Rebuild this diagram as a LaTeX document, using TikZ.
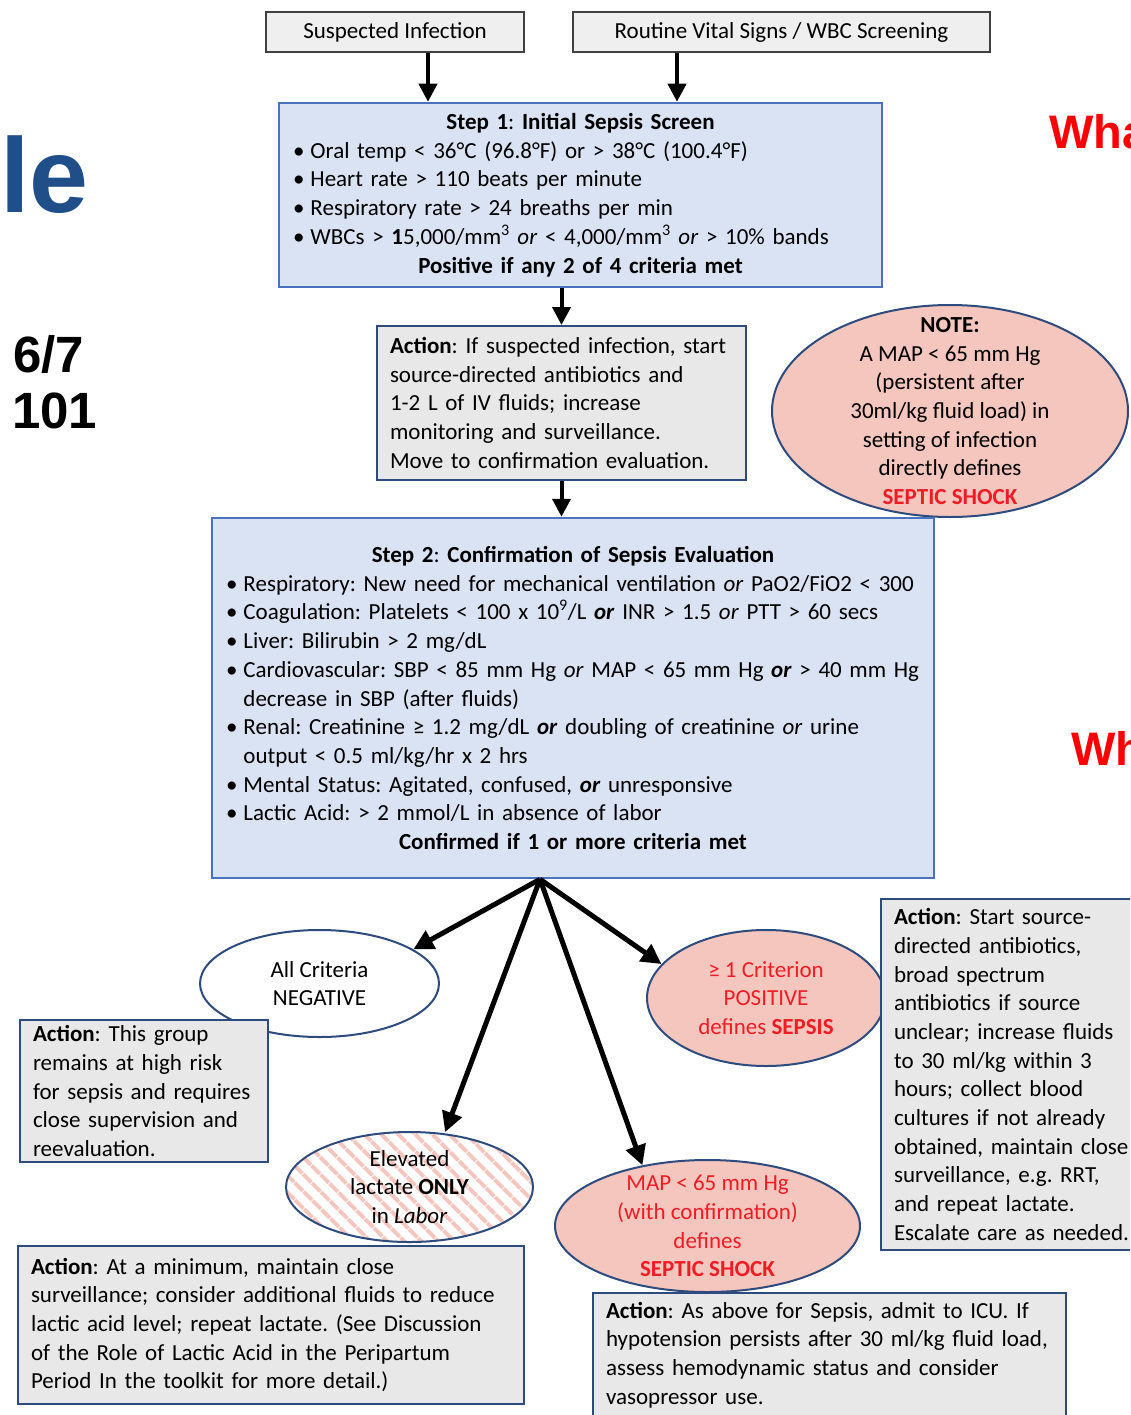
\documentclass[tikz,border=0pt]{standalone}
\usepackage{fontspec}
\setmainfont{Carlito}
\newfontfamily\slidefont{Liberation Sans}
\usetikzlibrary{arrows.meta,shapes.geometric,patterns.meta}
\definecolor{stepfill}{HTML}{DAE3F3}
\definecolor{stepline}{HTML}{4A72BE}
\definecolor{actfill}{HTML}{E8E8E8}
\definecolor{actline}{HTML}{2E4B7E}
\definecolor{topfill}{HTML}{EFEFEF}
\definecolor{topline}{HTML}{404040}
\definecolor{pinkfill}{HTML}{F5C6BD}
\definecolor{alertred}{HTML}{EE1C24}
\definecolor{titleblue}{HTML}{1F4E89}
\setlength{\parindent}{0pt}
\frenchspacing
\newcommand{\itm}{\textbullet\kern 6pt}

\begin{document}
\begin{tikzpicture}[x = 1pt, y = -1pt,
font = \fontsize{23}{28.7}\selectfont,
topbox/.style = {draw = topline, line width = 2pt, fill = topfill, inner sep = 0pt},
stepbox/.style = {draw = stepline, line width = 2.5pt, fill = stepfill, inner xsep = 14pt, inner ysep = 0pt, align = left},
actbox/.style = {draw = actline, line width = 2pt, fill = actfill, inner xsep = 13pt, inner ysep = 0pt, align = left},
oval/.style = {ellipse, draw = actline, line width = 2pt, inner sep = 0pt},
arr/.style = {line width = 4pt, -{Triangle[length = 18pt, width = 18pt]}},
branch/.style = {line width = 5pt, -{Triangle[length = 20pt, width = 20pt]}},
slide/.style = {anchor = base west, inner sep = 0pt}
]
\useasboundingbox (0,0) rectangle (1130,1415);
\clip (0,0) rectangle (1130,1415);
\fill [white] (0,0) rectangle (1130,1415);

% pieces of the slide behind the chart
\node [slide, text = titleblue, font = \slidefont\bfseries\fontsize{106}{106}\selectfont] (slide-le) at (0,213) {le};
\node [slide, font = \slidefont\bfseries\fontsize{51}{51}\selectfont] (slide-date) at (13,372) {6/7};
\node [slide, font = \slidefont\bfseries\fontsize{51}{51}\selectfont] (slide-num) at (12,428) {101};
\node [slide, text = red, font = \slidefont\bfseries\fontsize{47}{47}\selectfont] (slide-what) at (1049,149) {Wha};
\node [slide, text = red, font = \slidefont\bfseries\fontsize{47}{47}\selectfont] (slide-wh) at (1071,765) {Wh};

% entry points
\node [topbox, minimum width = 258pt, minimum height = 40pt] (susp) at (395,32) {Suspected Infection};
\node [topbox, minimum width = 417pt, minimum height = 40pt] (vitals) at (781.5,32) {Routine Vital Signs / WBC Screening};

\node [stepbox, text width = 575pt, minimum height = 184pt] (step1) at (580.5,195) {%
\centerline{\textbf{Step 1}: \textbf{Initial Sepsis Screen}}
\itm Oral temp < 36°C (96.8°F) or > 38°C (100.4°F)\\
\itm Heart rate > 110 beats per minute\\
\itm Respiratory rate > 24 breaths per min\\
\itm WBCs > \textbf{1}5,000/mm\textsuperscript{3} \textit{or} < 4,000/mm\textsuperscript{3} \textit{or} > 10\% bands\par
\centerline{\textbf{Positive if any 2 of 4 criteria met}}};

\node [actbox, text width = 343pt, minimum height = 154pt] (act1) at (561.5,403) {%
\textbf{Action}: If suspected infection, start\\
source-directed antibiotics and\\
1-2 L of IV fluids; increase\\
monitoring and surveillance.\\
Move to confirmation evaluation.};

\node [oval, fill = pinkfill, minimum width = 356pt, minimum height = 212pt] (note) at (950,411) {};
\node [align = center] (note-text) at (note.center) {\textbf{NOTE:}\\
A MAP < 65 mm Hg\\
(persistent after\\
30ml/kg fluid load) in\\
setting of infection\\
directly defines\\
\textcolor{alertred}{\textbf{SEPTIC SHOCK}}};

\node [stepbox, text width = 694pt, minimum height = 360pt] (step2) at (573,698) {%
\centerline{\textbf{Step 2}: \textbf{Confirmation of Sepsis Evaluation}}
\itm Respiratory: New need for mechanical ventilation \textit{or} PaO2/FiO2 < 300\\
\itm Coagulation: Platelets < 100 x 10\textsuperscript{9}/L \textbf{\textit{or}} INR > 1.5 \textit{or} PTT > 60 secs\\
\itm Liver: Bilirubin > 2 mg/dL\\
\itm Cardiovascular: SBP < 85 mm Hg \textit{or} MAP < 65 mm Hg \textbf{\textit{or}} > 40 mm Hg\\
\hphantom{\itm}decrease in SBP (after fluids)\\
\itm Renal: Creatinine ≥ 1.2 mg/dL \textbf{\textit{or}} doubling of creatinine \textit{or} urine\\
\hphantom{\itm}output < 0.5 ml/kg/hr x 2 hrs\\
\itm Mental Status: Agitated, confused, \textbf{\textit{or}} unresponsive\\
\itm Lactic Acid: > 2 mmol/L in absence of labor\par
\centerline{\textbf{Confirmed if 1 or more criteria met}}};

% outcomes
\node [oval, fill = white, minimum width = 239pt, minimum height = 107pt] (neg) at (319.5,983.5) {};
\node [align = center] (neg-text) at (neg.center) {All Criteria\\ NEGATIVE};

\node [actbox, text width = 222pt, minimum height = 142pt] (grp) at (144,1091) {%
\textbf{Action}: This group\\
remains at high risk\\
for sepsis and requires\\
close supervision and\\
reevaluation.};

\node [oval, pattern = {Lines[angle = -45, distance = 13pt, line width = 4.5pt]}, pattern color = pinkfill,
minimum width = 247pt, minimum height = 110pt] (lac) at (409.5,1187) {};
\node [align = center] (lac-text) at (lac.center) {Elevated\\ lactate \textbf{ONLY}\\ in \textit{Labor}};

\node [oval, fill = pinkfill, minimum width = 238pt, minimum height = 136pt] (sepsis) at (766,998) {};
\node [align = center, text = alertred] (sepsis-text) at (sepsis.center) {≥ 1 Criterion\\ POSITIVE\\ defines \textbf{SEPSIS}};

\node [actbox, text width = 238pt, minimum height = 351pt] (care) at (1013,1074.5) {%
\textbf{Action}: Start source-\\
directed antibiotics,\\
broad spectrum\\
antibiotics if source\\
unclear; increase fluids\\
to 30 ml/kg within 3\\
hours; collect blood\\
cultures if not already\\
obtained, maintain close\\
surveillance, e.g. RRT,\\
and repeat lactate.\\
Escalate care as needed.};

\node [oval, fill = pinkfill, minimum width = 305pt, minimum height = 132pt] (shock) at (707.5,1226) {};
\node [align = center, text = alertred] (shock-text) at (shock.center) {MAP < 65 mm Hg\\ (with confirmation)\\ defines\\ \textbf{SEPTIC SHOCK}};

\node [actbox, text width = 480pt, minimum height = 158pt] (lacact) at (271,1325) {%
\textbf{Action}: At a minimum, maintain close\\
surveillance; consider additional fluids to reduce\\
lactic acid level; repeat lactate. (See Discussion\\
of the Role of Lactic Acid in the Peripartum\\
Period In the toolkit for more detail.)};

\node [actbox, text width = 447pt, minimum height = 124pt] (icu) at (829.5,1355) {%
\textbf{Action}: As above for Sepsis, admit to ICU. If\\
hypotension persists after 30 ml/kg fluid load,\\
assess hemodynamic status and consider\\
vasopressor use.};

% arrows
\coordinate (susp-out) at ([xshift = 33pt] susp.south);
\coordinate (vitals-out) at ([xshift = -104.5pt] vitals.south);
\coordinate (fork) at ([xshift = -33pt] step2.south);
\draw [arr] (susp-out) -- (susp-out |- step1.north);
\draw [arr] (vitals-out) -- (vitals-out |- step1.north);
\draw [arr] (step1.south -| act1.north) -- (act1.north);
\draw [arr] (act1.south) -- (act1.south |- step2.north);
\foreach \t in {neg.20, lac.57, shock.137, sepsis.162}{
\draw [branch] (fork) -- (\t);
}
\end{tikzpicture}
\end{document}
